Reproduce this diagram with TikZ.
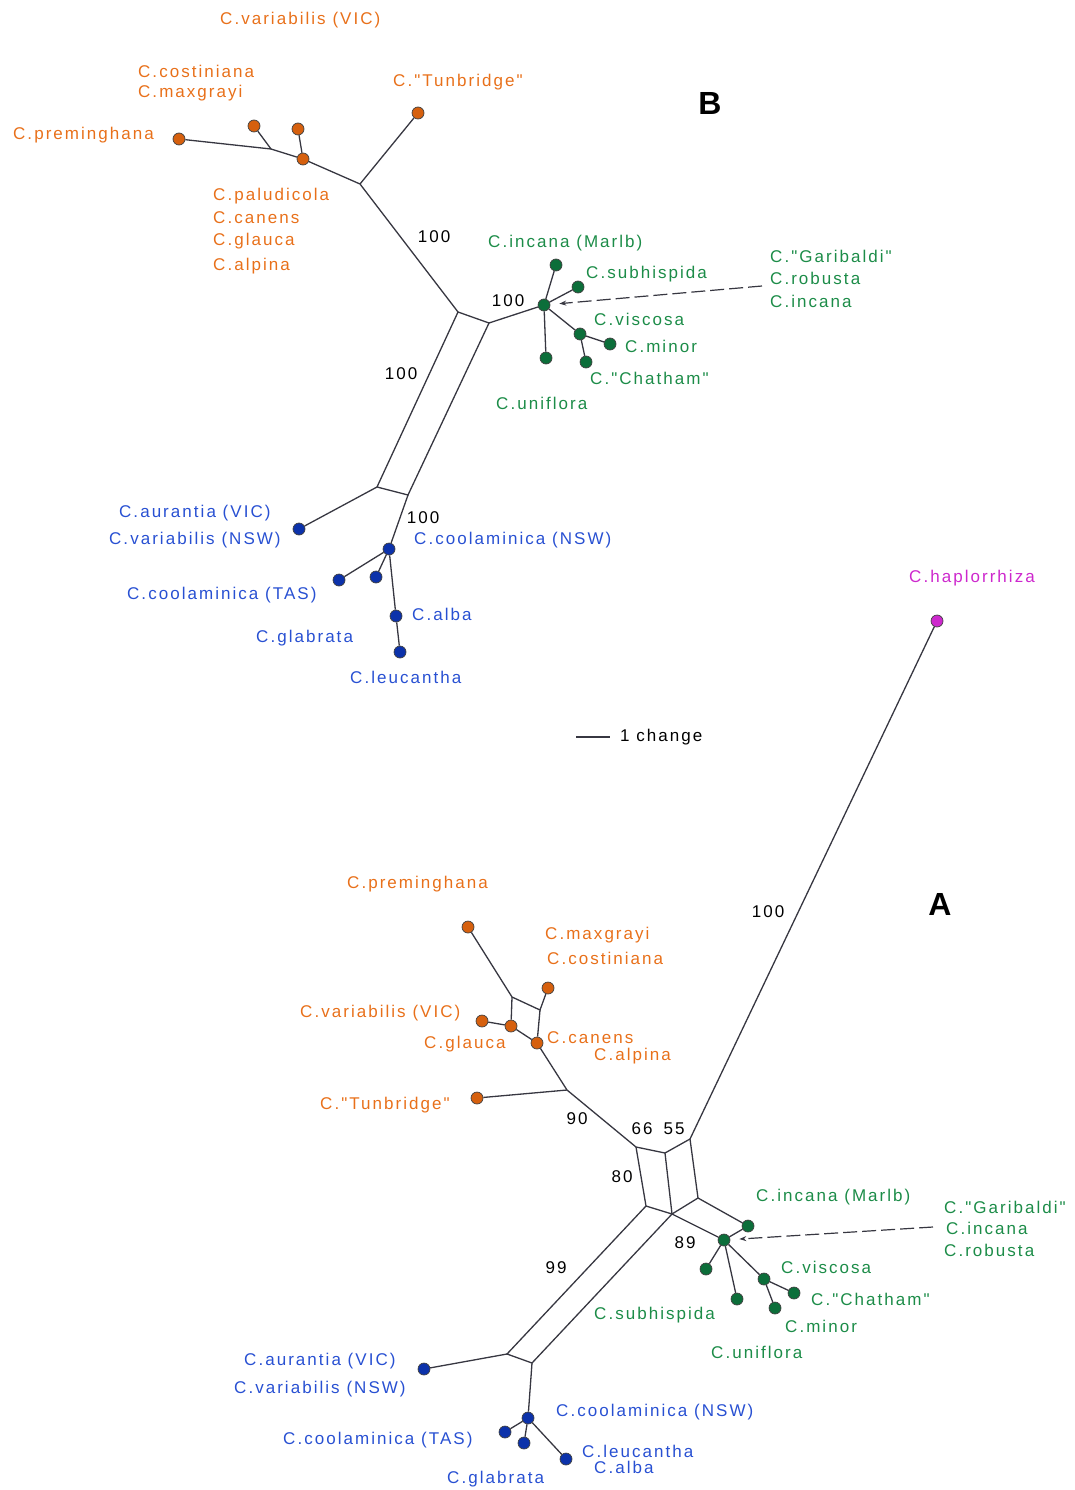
\documentclass[tikz,border=0pt]{standalone}
\usepackage{fontspec}
\setmainfont{Liberation Sans}[LetterSpace=12,Ligatures=TeXOff]
\usetikzlibrary{arrows.meta}
\definecolor{orangetxt}{RGB}{232,112,26}
\definecolor{orangedot}{RGB}{214,96,14}
\definecolor{greentxt}{RGB}{28,140,72}
\definecolor{greendot}{RGB}{12,110,58}
\definecolor{bluetxt}{RGB}{40,80,210}
\definecolor{bluedot}{RGB}{12,50,170}
\definecolor{magtxt}{RGB}{205,40,205}
\definecolor{edgegray}{RGB}{55,55,65}

\begin{document}
\begin{tikzpicture}[x=1pt,y=-1pt,
	branch/.style={draw=edgegray,line width=1.3pt},
	note/.style={draw=edgegray,line width=1.2pt,dash pattern=on 14pt off 5pt,-{Stealth[length=7pt,width=5pt]},shorten >=9pt},
	leafdot/.style={circle,draw=black!75,line width=0.7pt,minimum size=12pt,inner sep=0pt},
	odot/.style={leafdot,fill=orangedot},
	gdot/.style={leafdot,fill=greendot},
	bdot/.style={leafdot,fill=bluedot},
	mdot/.style={leafdot,fill=magtxt},
	lab/.style={anchor=west,inner sep=0pt,font=\fontsize{17}{19}\selectfont},
	olab/.style={lab,text=orangetxt},
	glab/.style={lab,text=greentxt},
	blab/.style={lab,text=bluetxt},
	supp/.style={inner sep=0pt,font=\fontsize{17}{19}\selectfont}]

	\useasboundingbox (0,0) rectangle (1074,1490);

	% network B
	\begin{scope}
		\node[odot] (bPrem) at (179,139) {};
		\node[odot] (bCost) at (254,126) {};
		\node[odot] (bMax) at (298,129) {};
		\node[odot] (bPal) at (303,159) {};
		\node[odot] (bTun) at (418,113) {};
		\coordinate (bJ1) at (271,149);
		\coordinate (bJ2) at (360,184);
		\coordinate (bTL) at (458,312);
		\coordinate (bTR) at (489,323);
		\coordinate (bBL) at (377,487);
		\coordinate (bBR) at (408,495);

		\node[gdot] (bHub) at (544,305) {};
		\node[gdot] (bMarlb) at (556,265) {};
		\node[gdot] (bSubh) at (578,287) {};
		\node[gdot] (bVisc) at (580,334) {};
		\node[gdot] (bMinor) at (610,344) {};
		\node[gdot] (bChat) at (586,362) {};
		\node[gdot] (bUni) at (546,358) {};

		\node[bdot] (bAur) at (299,529) {};
		\node[bdot] (bCnsw) at (389,549) {};
		\node[bdot] (bTas) at (339,580) {};
		\node[bdot] (bGlab) at (376,577) {};
		\node[bdot] (bAlba) at (396,616) {};
		\node[bdot] (bLeuc) at (400,652) {};

		\draw[branch] (bPrem) -- (bJ1) -- (bPal) -- (bJ2) -- (bTL) -- (bTR) -- (bHub);
		\draw[branch] (bCost) -- (bJ1);
		\draw[branch] (bMax) -- (bPal);
		\draw[branch] (bTun) -- (bJ2);
		\draw[branch] (bTL) -- (bBL) -- (bBR) -- (bTR);
		\draw[branch] (bHub) -- (bMarlb);
		\draw[branch] (bHub) -- (bSubh);
		\draw[branch] (bHub) -- (bVisc) -- (bMinor);
		\draw[branch] (bVisc) -- (bChat);
		\draw[branch] (bHub) -- (bUni);
		\draw[branch] (bBL) -- (bAur);
		\draw[branch] (bBR) -- (bCnsw) -- (bAlba) -- (bLeuc);
		\draw[branch] (bCnsw) -- (bTas);
		\draw[branch] (bCnsw) -- (bGlab);

		\coordinate (bNote) at (762,286);
		\draw[note] (bNote) -- (bHub);

		\node[olab] (bL1) at (220,20) {C.variabilis (VIC)};
		\node[olab] (bL2) at (138,71) {C.costiniana};
		\node[olab] (bL3) at (138,93) {C.maxgrayi};
		\node[olab] (bL4) at (393,82) {C."Tunbridge"};
		\node[olab] (bL5) at (13,135) {C.preminghana};
		\node[olab] (bL6) at (213,196) {C.paludicola};
		\node[olab] (bL7) at (213,218) {C.canens};
		\node[olab] (bL8) at (213,241) {C.glauca};
		\node[olab] (bL9) at (213,266) {C.alpina};

		\node[glab] (bG1) at (488,243) {C.incana (Marlb)};
		\node[glab] (bG2) at (586,274) {C.subhispida};
		\node[glab] (bG3) at (770,256) {C."Garibaldi"};
		\node[glab] (bG4) at (770,278) {C.robusta};
		\node[glab] (bG5) at (770,301) {C.incana};
		\node[glab] (bG6) at (594,319) {C.viscosa};
		\node[glab] (bG7) at (625,346) {C.minor};
		\node[glab] (bG8) at (590,378) {C."Chatham"};
		\node[glab] (bG9) at (496,403) {C.uniflora};

		\node[blab] (bB1) at (119,513) {C.aurantia (VIC)};
		\node[blab] (bB2) at (109,540) {C.variabilis (NSW)};
		\node[blab] (bB3) at (414,540) {C.coolaminica (NSW)};
		\node[blab] (bB4) at (127,595) {C.coolaminica (TAS)};
		\node[blab] (bB5) at (412,614) {C.alba};
		\node[blab] (bB6) at (256,638) {C.glabrata};
		\node[blab] (bB7) at (350,677) {C.leucantha};

		\node[supp] (bS1) at (434,237) {100};
		\node[supp] (bS2) at (508,301) {100};
		\node[supp] (bS3) at (401,374) {100};
		\node[supp] (bS4) at (423,518) {100};
		\node[font=\fontsize{32}{36}\bfseries] (bTitle) at (710,103) {B};
	\end{scope}

	% outgroup and scale
	\node[mdot] (hap) at (937,621) {};
	\node[lab,text=magtxt] (hapL) at (909,578) {C.haplorrhiza};
	\coordinate (sc1) at (576,737);
	\coordinate (sc2) at (610,737);
	\draw[branch] (sc1) -- (sc2);
	\node[lab] (scL) at (620,737) {1 change};

	% network A
	\begin{scope}
		\node[odot] (aPrem) at (468,927) {};
		\node[odot] (aCost) at (548,988) {};
		\node[odot] (aGlau) at (511,1026) {};
		\node[odot] (aVar) at (482,1021) {};
		\node[odot] (aCan) at (537,1043) {};
		\node[odot] (aTun) at (477,1098) {};
		\coordinate (aBoxTL) at (512,997);
		\coordinate (aBoxTR) at (540,1010);
		\coordinate (aJT) at (567,1090);
		\coordinate (aTL) at (636,1147);
		\coordinate (aTM) at (665,1153);
		\coordinate (aTR) at (690,1139);
		\coordinate (aBL) at (646,1206);
		\coordinate (aBM) at (672,1214);
		\coordinate (aBR) at (698,1198);
		\coordinate (aLL) at (507,1354);
		\coordinate (aLR) at (532,1363);

		\node[gdot] (aHub) at (724,1240) {};
		\node[gdot] (aMarlb) at (748,1226) {};
		\node[gdot] (aUni) at (706,1269) {};
		\node[gdot] (aSubh) at (737,1299) {};
		\node[gdot] (aVisc) at (764,1279) {};
		\node[gdot] (aChat) at (794,1293) {};
		\node[gdot] (aMinor) at (775,1308) {};

		\node[bdot] (aAur) at (424,1369) {};
		\node[bdot] (aCnsw) at (528,1418) {};
		\node[bdot] (aTas) at (505,1432) {};
		\node[bdot] (aGlab) at (524,1443) {};
		\node[bdot] (aLeuc) at (566,1459) {};

		\draw[branch] (aPrem) -- (aBoxTL) -- (aBoxTR) -- (aCost);
		\draw[branch] (aBoxTL) -- (aGlau);
		\draw[branch] (aBoxTR) -- (aCan);
		\draw[branch] (aVar) -- (aGlau) -- (aCan) -- (aJT) -- (aTL) -- (aTM) -- (aTR);
		\draw[branch] (aTun) -- (aJT);
		\draw[branch] (aTL) -- (aBL) -- (aBM) -- (aBR) -- (aTR);
		\draw[branch] (aTM) -- (aBM) -- (aHub);
		\draw[branch] (aBR) -- (aMarlb) -- (aHub);
		\draw[branch] (aHub) -- (aUni);
		\draw[branch] (aHub) -- (aSubh);
		\draw[branch] (aHub) -- (aVisc) -- (aChat);
		\draw[branch] (aVisc) -- (aMinor);
		\draw[branch] (aBL) -- (aLL) -- (aLR) -- (aBM);
		\draw[branch] (aLL) -- (aAur);
		\draw[branch] (aLR) -- (aCnsw);
		\draw[branch] (aCnsw) -- (aTas);
		\draw[branch] (aCnsw) -- (aGlab);
		\draw[branch] (aCnsw) -- (aLeuc);
		\draw[branch] (hap) -- (aTR);

		\coordinate (aNote) at (933,1227);
		\draw[note] (aNote) -- (aHub);

		\node[olab] (aL1) at (347,884) {C.preminghana};
		\node[olab] (aL2) at (545,935) {C.maxgrayi};
		\node[olab] (aL3) at (547,958) {C.costiniana};
		\node[olab] (aL4) at (300,1013) {C.variabilis (VIC)};
		\node[olab] (aL5) at (424,1044) {C.glauca};
		\node[olab] (aL6) at (547,1038) {C.canens};
		\node[olab] (aL7) at (594,1056) {C.alpina};
		\node[olab] (aL8) at (320,1105) {C."Tunbridge"};

		\node[glab] (aG1) at (756,1197) {C.incana (Marlb)};
		\node[glab] (aG2) at (944,1207) {C."Garibaldi"};
		\node[glab] (aG3) at (946,1228) {C.incana};
		\node[glab] (aG4) at (944,1250) {C.robusta};
		\node[glab] (aG5) at (781,1267) {C.viscosa};
		\node[glab] (aG6) at (811,1299) {C."Chatham"};
		\node[glab] (aG7) at (594,1315) {C.subhispida};
		\node[glab] (aG8) at (785,1326) {C.minor};
		\node[glab] (aG9) at (711,1352) {C.uniflora};

		\node[blab] (aB1) at (244,1361) {C.aurantia (VIC)};
		\node[blab] (aB2) at (234,1389) {C.variabilis (NSW)};
		\node[blab] (aB3) at (556,1412) {C.coolaminica (NSW)};
		\node[blab] (aB4) at (283,1440) {C.coolaminica (TAS)};
		\node[blab] (aB5) at (582,1451) {C.leucantha};
		\node[blab] (aB6) at (594,1467) {C.alba};
		\node[blab] (aB7) at (447,1479) {C.glabrata};

		\node[supp] (aS1) at (768,912) {100};
		\node[supp] (aS2) at (577,1119) {90};
		\node[supp] (aS3) at (642,1129) {66};
		\node[supp] (aS4) at (674,1129) {55};
		\node[supp] (aS5) at (622,1177) {80};
		\node[supp] (aS6) at (685,1243) {89};
		\node[supp] (aS7) at (556,1268) {99};
		\node[font=\fontsize{32}{36}\bfseries] (aTitle) at (940,904) {A};
	\end{scope}
\end{tikzpicture}
\end{document}
